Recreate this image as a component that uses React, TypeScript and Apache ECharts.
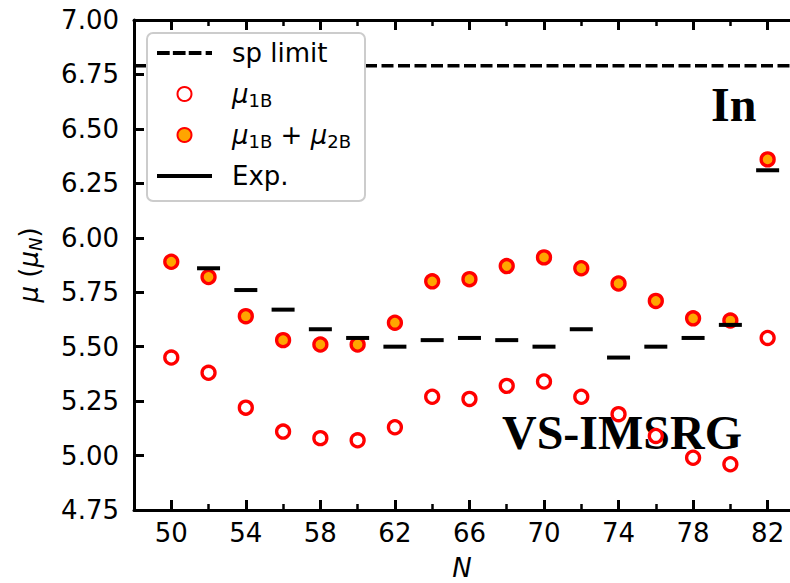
import React, { useEffect, useRef } from 'react';
import * as echarts from 'echarts';

const nValues = [50, 52, 54, 56, 58, 60, 62, 64, 66, 68, 70, 72, 74, 76, 78, 80, 82];
const mu1B = [5.45, 5.38, 5.22, 5.11, 5.08, 5.07, 5.13, 5.27, 5.26, 5.32, 5.34, 5.27, 5.19, 5.09, 4.99, 4.96, 5.54];
const mu1B2B = [5.89, 5.82, 5.64, 5.53, 5.51, 5.51, 5.61, 5.80, 5.81, 5.87, 5.91, 5.86, 5.79, 5.71, 5.63, 5.62, 6.36];
const expN = [52, 54, 56, 58, 60, 62, 64, 66, 68, 70, 72, 74, 76, 78, 80, 82];
const expValues = [5.86, 5.76, 5.67, 5.58, 5.54, 5.50, 5.53, 5.54, 5.53, 5.50, 5.58, 5.45, 5.50, 5.54, 5.60, 6.31];
const spLimit = 6.79;
const xRange = [48, 83.2];
const xMajorTicks = [50, 54, 58, 62, 66, 70, 74, 78, 82];
const xMinorTicks = [52, 56, 60, 64, 68, 72, 76, 80];
const yRange = [4.75, 7.0];
const yInterval = 0.25;

const FONT = 'DejaVu Sans';

const legendLabels: Record<string, string> = {
  'sp limit': 'sp limit',
  'μ1B': '{m|μ}{s|1B}',
  'μ1B + μ2B': '{m|μ}{s|1B}{n| + }{m|μ}{s|2B}',
  'Exp.': 'Exp.',
};

export default function App() {
  const ref = useRef<HTMLDivElement>(null);
  useEffect(() => {
    if (!ref.current) return;
    const chart = echarts.init(ref.current, undefined, { renderer: 'svg' });
    const richText = {
      m: { fontStyle: 'italic', fontSize: 26, fontFamily: FONT, color: '#000', lineHeight: 30, verticalAlign: 'middle' },
      n: { fontSize: 26, fontFamily: FONT, color: '#000', lineHeight: 30, verticalAlign: 'middle' },
      s: { fontSize: 18, fontFamily: FONT, color: '#000', lineHeight: 20, verticalAlign: 'bottom' },
      si: { fontSize: 18, fontStyle: 'italic', fontFamily: FONT, color: '#000', lineHeight: 20, verticalAlign: 'bottom' },
    };
    const axisLine = { show: true, lineStyle: { color: '#000', width: 3 } };
    const baseX = { type: 'value', min: xRange[0], max: xRange[1], splitLine: { show: false } };
    chart.setOption({
      animation: false,
      backgroundColor: '#fff',
      grid: { left: 134, right: 0, top: 20, bottom: 73, containLabel: false, outerBoundsMode: 'none' },
      xAxis: [
        {
          ...baseX,
          position: 'bottom',
          axisLine,
          axisTick: { show: true, inside: true, length: 10, lineStyle: { width: 3, color: '#000' }, customValues: xMajorTicks },
          axisLabel: { show: true, customValues: xMajorTicks, fontSize: 26, fontFamily: FONT, color: '#000', margin: 10 },
          name: 'N',
          nameLocation: 'middle',
          nameGap: 47,
          nameTextStyle: { fontSize: 26, fontStyle: 'italic', fontFamily: FONT, color: '#000', lineHeight: 22 },
        },
        {
          ...baseX,
          position: 'bottom',
          axisLine: { show: false },
          axisTick: { show: true, inside: true, length: 6, lineStyle: { width: 2.5, color: '#000' }, customValues: xMinorTicks },
          axisLabel: { show: false },
        },
        {
          ...baseX,
          position: 'top',
          axisLine,
          axisTick: { show: true, inside: true, length: 10, lineStyle: { width: 3, color: '#000' }, customValues: xMajorTicks },
          axisLabel: { show: false },
        },
        {
          ...baseX,
          position: 'top',
          axisLine: { show: false },
          axisTick: { show: true, inside: true, length: 6, lineStyle: { width: 2.5, color: '#000' }, customValues: xMinorTicks },
          axisLabel: { show: false },
        },
      ],
      yAxis: {
        type: 'value',
        min: yRange[0],
        max: yRange[1],
        interval: yInterval,
        splitLine: { show: false },
        axisLine,
        axisTick: { show: true, inside: true, length: 10, lineStyle: { width: 3, color: '#000' } },
        axisLabel: {
          fontSize: 26,
          fontFamily: FONT,
          color: '#000',
          margin: 15,
          formatter: (v: number) => v.toFixed(2),
        },
        name: '{m|μ}{n| (}{m|μ}{si|N}{n|)}',
        nameLocation: 'middle',
        nameGap: 90,
        nameRotate: 90,
        nameTextStyle: { rich: richText },
      },
      legend: {
        orient: 'vertical',
        left: 147,
        top: 33,
        itemWidth: 55,
        itemHeight: 14,
        itemGap: 11,
        padding: [5, 14, 10, 10],
        backgroundColor: '#fff',
        borderColor: '#cccccc',
        borderWidth: 2,
        borderRadius: 6,
        textStyle: { fontSize: 26, fontFamily: FONT, color: '#000', lineHeight: 30, padding: [0, 0, 0, 15], rich: richText },
        formatter: (name: string) => legendLabels[name] ?? name,
        data: [
          { name: 'sp limit', icon: 'path://M0,0H12V4H0Z M15,0H27V4H15Z M30,0H42V4H30Z M46,0H52V4H46Z' },
          { name: 'μ1B' },
          { name: 'μ1B + μ2B' },
          { name: 'Exp.', icon: 'path://M0,0H55V4H0Z' },
        ],
      },
      graphic: [
        {
          type: 'text',
          left: 711,
          top: 80,
          z: 0,
          style: { text: 'In', font: 'bold 48px "Liberation Serif"', fill: '#000' },
        },
        {
          type: 'text',
          left: 502,
          top: 408,
          z: 0,
          style: { text: 'VS-IMSRG', font: 'bold 48px "Liberation Serif"', fill: '#000' },
        },
      ],
      series: [
        {
          name: 'sp limit',
          type: 'line',
          data: xRange.map((x) => [x, spLimit]),
          symbol: 'none',
          itemStyle: { color: '#000' },
          lineStyle: { color: '#000', width: 3.6, type: [12, 4.5] },
          z: 1,
        },
        {
          name: 'μ1B',
          type: 'scatter',
          data: nValues.map((n, i) => [n, mu1B[i]]),
          symbol: 'circle',
          symbolSize: 13,
          itemStyle: { color: '#ffffff', borderColor: '#ff0000', borderWidth: 3.3, opacity: 1 },
          z: 3,
        },
        {
          name: 'μ1B + μ2B',
          type: 'scatter',
          data: nValues.map((n, i) => [n, mu1B2B[i]]),
          symbol: 'circle',
          symbolSize: 13,
          itemStyle: { color: '#ffa500', borderColor: '#ff0000', borderWidth: 3.3, opacity: 1 },
          z: 3,
        },
        {
          name: 'Exp.',
          type: 'scatter',
          data: expN.map((n, i) => [n, expValues[i]]),
          symbol: 'rect',
          symbolSize: [23, 4],
          itemStyle: { color: '#000', opacity: 1 },
          z: 4,
        },
      ],
    });
    return () => chart.dispose();
  }, []);
  return <div ref={ref} style={{ position: 'fixed', left: 0, top: 0, width: 790, height: 583 }} />;
}
